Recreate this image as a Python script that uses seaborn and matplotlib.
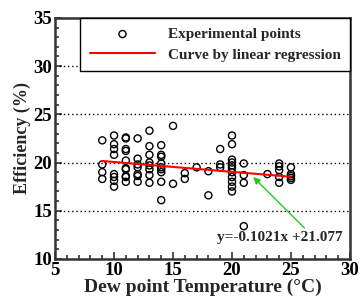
import matplotlib
matplotlib.use("Agg")
import matplotlib.pyplot as plt
from matplotlib.ticker import MultipleLocator
import numpy as np
import pandas as pd
import seaborn as sns

# measured points, grouped by dew point temperature
dew_point = (
    [9] * 4 + [10] * 8 + [11] * 10 + [12] * 7 + [13] * 8 + [14] * 9
    + [15] * 2 + [16] * 2 + [17] * 1 + [18] * 2 + [19] * 3 + [20] * 11
    + [21] * 4 + [23] * 1 + [24] * 5 + [25] * 5
)
efficiency = (
    [22.3, 19.8, 19.0, 18.3]
    + [22.8, 21.9, 21.4, 20.8, 18.8, 18.5, 18.1, 17.5]
    + [22.6, 22.5, 21.4, 21.2, 20.2, 19.4, 19.3, 18.6, 18.5, 18.0]
    + [22.5, 20.4, 19.8, 19.5, 18.8, 18.6, 18.0]
    + [23.3, 21.7, 20.8, 20.0, 19.7, 19.3, 18.7, 17.9]
    + [21.8, 20.8, 20.6, 19.9, 19.5, 19.3, 19.0, 18.0, 16.1]
    + [23.8, 17.8]
    + [18.9, 18.3]
    + [19.5]
    + [19.1, 16.6]
    + [21.4, 19.8, 19.5]
    + [22.8, 21.9, 20.3, 20.0, 19.7, 19.4, 19.0, 18.5, 18.0, 17.5, 17.0]
    + [19.9, 18.7, 17.9, 13.4]
    + [18.8]
    + [19.9, 19.6, 19.2, 18.5, 17.9]
    + [19.5, 18.8, 18.6, 18.4, 18.2]
)

# regression reported on the chart
slope = -0.1021
intercept = 21.077
fit_range = [9, 25]

sns.set_style("ticks")
plt.rcParams["font.family"] = ["Liberation Serif", "DejaVu Serif"]
plt.rcParams["font.weight"] = "bold"

df = pd.DataFrame({"T": dew_point, "eff": efficiency})
fit = pd.DataFrame({"T": fit_range, "eff": np.polyval([slope, intercept], fit_range)})

fig, ax = plt.subplots(figsize=(3.6, 2.98), dpi=100)
fig.subplots_adjust(left=0.153, right=0.972, top=0.940, bottom=0.131)

sns.scatterplot(data=df, x="T", y="eff", ax=ax, marker="o", s=26,
                facecolors="none", edgecolor="black", linewidth=1.0,
                label="Experimental points", zorder=3)
sns.lineplot(data=fit, x="T", y="eff", ax=ax, color="red", linewidth=1.5,
             label="Curve by linear regression", zorder=4)

ax.set_xlim(5, 30)
ax.set_ylim(10, 35)
ax.xaxis.set_major_locator(MultipleLocator(5))
ax.yaxis.set_major_locator(MultipleLocator(5))
ax.xaxis.set_minor_locator(MultipleLocator(1))
ax.yaxis.set_minor_locator(MultipleLocator(1))
ax.tick_params(which="both", direction="in", labelsize=13.5, colors="#333333",
               labelcolor="black", width=1.2)
ax.tick_params(which="major", length=5, pad=2)
ax.tick_params(which="minor", length=3)
for lbl in ax.get_xticklabels() + ax.get_yticklabels():
    lbl.set_fontweight("bold")

for y in [15, 20, 25, 30]:
    ax.axhline(y, color="black", linestyle=(0, (1, 2)), linewidth=1, zorder=1)

for sp in ax.spines.values():
    sp.set_visible(True)
    sp.set_linewidth(1.8)
    sp.set_color("#333333")

ax.set_xlabel("Dew point Temperature (°C)", fontsize=14, fontweight="bold", labelpad=0)
ax.set_ylabel("Efficiency (%)", fontsize=13, fontweight="bold", labelpad=2)

ax.annotate("y=-0.1021x +21.077", xy=(21.8, 18.5), xytext=(29.4, 12.2),
            ha="right", va="center", fontsize=11, fontweight="bold",
            arrowprops=dict(arrowstyle="-|>", color="#22cc22", lw=1,
                            mutation_scale=10, shrinkA=0, shrinkB=0,
                            relpos=(0.72, 1.0)))

leg = ax.legend(loc="upper right", bbox_to_anchor=(1.0, 1.0), borderaxespad=0,
                fancybox=False, framealpha=1, edgecolor="black",
                prop={"size": 11, "weight": "bold"}, handlelength=4.3,
                handletextpad=0.8, borderpad=0.62, labelspacing=0.45)
leg.get_frame().set_linewidth(1.0)

fig.savefig("out.png", dpi=100)
